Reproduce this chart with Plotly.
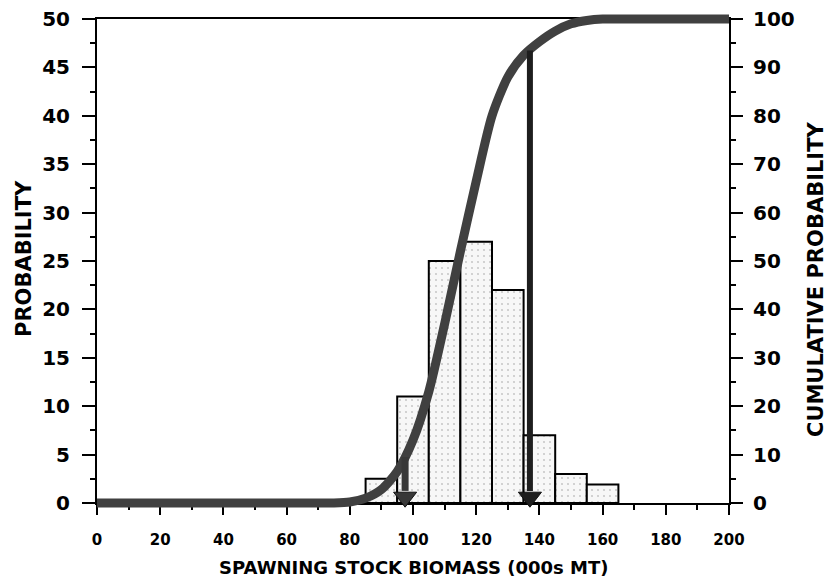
import plotly.graph_objects as go

# ---------------- data ----------------
bin_centers = [90, 100, 110, 120, 130, 140, 150, 160]
probability = [2.5, 11, 25, 27, 22, 7, 3, 1.9]
bin_width = 10

cum_x = [0, 10, 20, 30, 40, 50, 60, 70, 75, 80, 85, 90, 95, 100, 105, 110, 115,
         120, 125, 130, 135, 140, 145, 150, 155, 160, 170, 180, 190, 200]
cum_y = [0, 0, 0, 0, 0, 0, 0, 0, 0, 0.2, 1, 2.8, 6.5, 13, 23, 37, 52,
         66.5, 80, 88, 92.5, 95.3, 97.5, 99, 99.7, 100, 100, 100, 100, 100]

arrow_x = [97.5, 137]
arrow_top = [9.5, 93.5]

x_ticks = list(range(0, 201, 20))
left_ticks = list(range(0, 51, 5))
right_ticks = list(range(0, 101, 10))

x_title = "SPAWNING STOCK BIOMASS (000s MT)"
left_title = "PROBABILITY"
right_title = "CUMULATIVE PROBABILITY"

# ---------------- layout geometry ----------------
W, H = 830, 583
L, R, T, B = 87, 91, 9, 70
pw, ph = W - L - R, H - T - B
px0, px1, py_top, py_bot = 97, 729, 19, 503
dom_x = [(px0 - L) / pw, (px1 - L) / pw]
dom_y = [(H - B - py_bot) / ph, (H - B - py_top) / ph]

def ext_range(lo, hi, dom):
    span = (hi - lo) / (dom[1] - dom[0])
    return [lo - dom[0] * span, hi + (1 - dom[1]) * span]

x3_range = ext_range(0, 200, dom_x)
y3_range = ext_range(0, 100, dom_y)

FONT = "DejaVu Sans"
fig = go.Figure()

fig.add_trace(go.Bar(
    x=bin_centers, y=probability, width=bin_width,
    marker=dict(color="#f3f3f3", line=dict(color="black", width=2),
                pattern=dict(shape=".", fgcolor="#9a9a9a", bgcolor="#f7f7f7",
                             size=6, solidity=0.1)),
    xaxis="x", yaxis="y", showlegend=False, hoverinfo="skip"))

# invisible trace to activate right axis
fig.add_trace(go.Scatter(x=[cum_x[0]], y=[cum_y[0]], mode="markers",
                         marker=dict(opacity=0), xaxis="x", yaxis="y2",
                         showlegend=False, hoverinfo="skip"))

# cumulative curve (overlay axes so the thick line is not clipped)
fig.add_trace(go.Scatter(x=cum_x, y=cum_y, mode="lines",
                         line=dict(color="#404040", width=9, shape="spline", smoothing=0.7),
                         xaxis="x3", yaxis="y3", showlegend=False, hoverinfo="skip"))

arrow_colors = ["#383838", "#1e1e1e"]
arrow_widths = [7, 6]
for xa, ya, c, w in zip(arrow_x, arrow_top, arrow_colors, arrow_widths):
    fig.add_trace(go.Scatter(x=[xa, xa], y=[ya, 2.5], mode="lines",
                             line=dict(color=c, width=w),
                             xaxis="x3", yaxis="y3", showlegend=False, hoverinfo="skip"))
fig.add_trace(go.Scatter(x=arrow_x, y=[1.2] * len(arrow_x), mode="markers",
                         marker=dict(symbol="triangle-down", size=20, color=arrow_colors,
                                     line=dict(color="#111", width=1)),
                         xaxis="x3", yaxis="y3", showlegend=False, hoverinfo="skip"))

axis_common = dict(showgrid=False, zeroline=False, showline=True, linecolor="black",
                   linewidth=2, ticks="outside", tickcolor="black", tickwidth=2,
                   automargin=False)

fig.update_layout(
    width=W, height=H,
    margin=dict(l=L, r=R, t=T, b=B, autoexpand=False),
    paper_bgcolor="white", plot_bgcolor="rgba(0,0,0,0)",
    xaxis=dict(domain=dom_x, range=[0, 200], tickvals=x_ticks, ticklen=10,
               mirror=True, anchor="y", ticklabelstandoff=12,
               tickfont=dict(family=FONT, size=15, color="black", weight="bold"),
               minor=dict(dtick=10, ticks="outside", ticklen=5, tickwidth=1.5,
                          tickcolor="black"),
               **axis_common),
    yaxis=dict(domain=dom_y, range=[0, 50], tickvals=left_ticks, ticklen=13,
               anchor="x", ticklabelstandoff=8,
               tickfont=dict(family=FONT, size=20, color="black", weight="bold"),
               minor=dict(dtick=2.5, ticks="outside", ticklen=5, tickwidth=1.5,
                          tickcolor="black"),
               **axis_common),
    yaxis2=dict(overlaying="y", side="right", range=[0, 100], tickvals=right_ticks,
                ticklen=12, anchor="x", ticklabelstandoff=6,
                tickfont=dict(family=FONT, size=20, color="black", weight="bold"),
                minor=dict(dtick=5, ticks="outside", ticklen=5, tickwidth=1.5,
                           tickcolor="black"),
                **axis_common),
    xaxis3=dict(domain=[0, 1], range=x3_range, visible=False, anchor="y3"),
    yaxis3=dict(domain=[0, 1], range=y3_range, visible=False, anchor="x3"),
    annotations=[
        dict(text=x_title, xref="paper", yref="paper",
             x=(413 - L) / pw, y=(H - B - 567) / ph, showarrow=False,
             xanchor="center", yanchor="middle",
             font=dict(family=FONT, size=18, color="black", weight="bold")),
        dict(text=left_title, xref="paper", yref="paper", textangle=-90,
             x=(24 - L) / pw, y=(H - B - 259) / ph, showarrow=False,
             xanchor="center", yanchor="middle",
             font=dict(family=FONT, size=21, color="black", weight="bold")),
        dict(text=right_title, xref="paper", yref="paper", textangle=-90,
             x=(816 - L) / pw, y=(H - B - 280) / ph, showarrow=False,
             xanchor="center", yanchor="middle",
             font=dict(family=FONT, size=21, color="black", weight="bold")),
    ],
)

fig.write_html("out.html", config={"displayModeBar": False},
               post_script="document.body.style.margin='0';document.body.style.overflow='hidden';")
